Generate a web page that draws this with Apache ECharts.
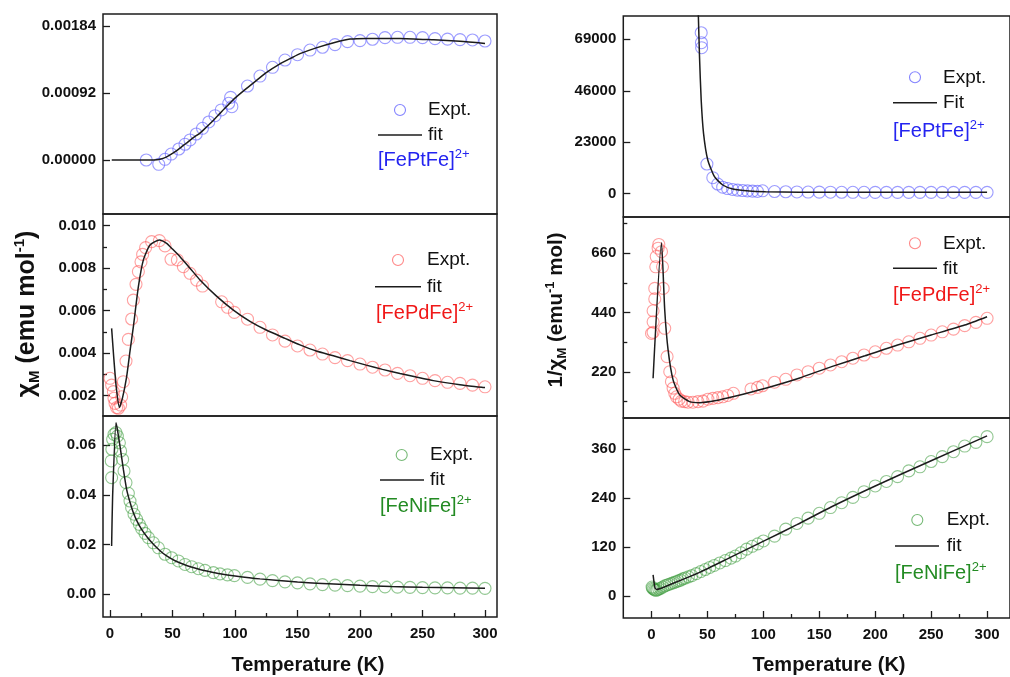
<!DOCTYPE html>
<html>
<head>
<meta charset="utf-8">
<script src="https://cdn.jsdelivr.net/npm/echarts@6/dist/echarts.min.js"></script>
<style>
  html, body { margin: 0; padding: 0; background: #fff; }
  #chart { width: 1010px; height: 677px; }
</style>
</head>
<body>
<div id="chart"></div>
<script>
// ---- [FePtFe]2+ : molar susceptibility (emu/mol) vs T (K)
const ptT = [29, 39, 44, 49, 55, 60, 64, 69, 74, 79, 84, 89, 95, 96.5, 97.5,
  110, 120, 130, 140, 150, 160, 170, 180, 190, 200, 210, 220, 230, 240, 250, 260, 270, 280, 290, 300];
const ptChi = [0.0, -0.000059, 0.00001, 0.000082, 0.000151, 0.000216, 0.000275, 0.000357, 0.000435, 0.000522, 0.000608, 0.000687, 0.000779, 0.00086, 0.000732,
  0.001016, 0.001153, 0.001273, 0.001373, 0.001446, 0.00151, 0.001548, 0.001584, 0.001625, 0.001639, 0.001658, 0.00168, 0.001685, 0.001685, 0.00168, 0.001666, 0.00166, 0.001653, 0.001648, 0.001634];
const ptFitT = [1.4, 20, 35, 40, 45, 50, 55, 61, 67, 72, 77, 83, 88, 93, 100, 109, 117, 125, 135, 145, 152, 165, 179, 192, 205, 232, 259, 280, 300];
const ptFitChi = [0, 0, 0, 0.00001, 0.00004, 0.00009, 0.00015, 0.00023, 0.00031, 0.00037, 0.00045, 0.00055, 0.00064, 0.00073, 0.00085, 0.00098, 0.00109, 0.0012, 0.00131, 0.0014, 0.00146, 0.00154, 0.00161, 0.00166, 0.00167, 0.00167, 0.00165, 0.00163, 0.0016];

// ---- [FePdFe]2+
const pdT = [0, 1.3, 2.7, 3.2, 4, 5.3, 6.7, 8.5, 9.3, 10.7, 12.8, 14.7, 17.3, 18.7, 20.8, 22.7, 24.8, 26.1, 28.5, 33.3,
  39.5, 44, 48.8, 53.9, 58.7, 64, 69.3, 74, 89.3, 94, 99.5,
  110, 120, 130, 140, 150, 160, 170, 180, 190, 200, 210, 220, 230, 240, 250, 260, 270, 280, 290, 300];
const pdChi = [0.00282, 0.0025, 0.00219, 0.00188, 0.00164, 0.00144, 0.00141, 0.00156, 0.00195, 0.00266, 0.00363, 0.00465, 0.00561, 0.0065, 0.00724, 0.00784, 0.0083, 0.00865, 0.00897, 0.00925,
  0.0093, 0.00905, 0.00842, 0.00839, 0.00807, 0.00776, 0.00744, 0.00716, 0.00642, 0.00616, 0.00592,
  0.0056, 0.00522, 0.00486, 0.00457, 0.00434, 0.00415, 0.00396, 0.00379, 0.00365, 0.00349, 0.00334, 0.00321, 0.00305, 0.00294, 0.00282, 0.00271, 0.00263, 0.00258, 0.0025, 0.00242];
const pdFitT = [1.3, 3, 5, 7.5, 10, 13.3, 16, 18.7, 22.7, 26.7, 32, 39.5, 45.3, 50, 56, 64, 72, 85, 98.7, 112, 125, 140, 152, 165, 178.7, 192, 205, 218, 232, 245, 258.7, 280, 300];
const pdFitChi = [0.00517, 0.0038, 0.0024, 0.00145, 0.0019, 0.00289, 0.0041, 0.00525, 0.00713, 0.00839, 0.00909, 0.00933, 0.00917, 0.0089, 0.00854, 0.008, 0.00745, 0.0067, 0.00603, 0.0055, 0.00509, 0.0047, 0.00439, 0.0041, 0.00388, 0.00365, 0.00344, 0.00324, 0.00305, 0.00288, 0.00271, 0.00252, 0.00238];

// ---- [FeNiFe]2+
const niT = [1.0, 1.3, 1.5, 2.1, 3.2, 4.8, 5.9, 7.5, 8.5, 10.1, 11.2, 12.8, 14.7, 16, 17.3, 19.2, 21.3, 23.5, 25.3, 28,
  30.7, 34.7, 38.7, 44, 49.3, 54.7, 60, 65.3, 70.7, 76, 82.7, 88, 94, 99.5,
  110, 120, 130, 140, 150, 160, 170, 180, 190, 200, 210, 220, 230, 240, 250, 260, 270, 280, 290, 300];
const niChi = [0.0536, 0.0469, 0.0583, 0.0623, 0.0643, 0.065, 0.0636, 0.0609, 0.0576, 0.0542, 0.0496, 0.0449, 0.0406, 0.0375, 0.0348, 0.0322, 0.0301, 0.0281, 0.0264, 0.0245,
  0.0228, 0.0207, 0.0187, 0.0161, 0.0147, 0.0134, 0.012, 0.0111, 0.0103, 0.0096, 0.0087, 0.0082, 0.0078, 0.0075,
  0.0068, 0.0061, 0.0055, 0.005, 0.0046, 0.0042, 0.0039, 0.0037, 0.0035, 0.0033, 0.0031, 0.003, 0.0029, 0.0028, 0.0027, 0.0026, 0.0026, 0.0025, 0.0025, 0.0024];
const niFitT = [1.3, 2.1, 4.8, 6, 8, 10.7, 13.3, 16, 18.7, 22, 25.3, 30, 34.7, 40, 45.3, 52, 58.7, 65, 72, 80, 88, 100, 120, 150, 175, 200, 225, 250, 275, 300];
const niFitChi = [0.0194, 0.0395, 0.069, 0.066, 0.0596, 0.0502, 0.0422, 0.037, 0.0328, 0.029, 0.0261, 0.0228, 0.0201, 0.0175, 0.0154, 0.0135, 0.0121, 0.011, 0.01, 0.0091, 0.0083, 0.0074, 0.0062, 0.0049, 0.0042, 0.0036, 0.0031, 0.0028, 0.0026, 0.0024];

// ---- inverse susceptibility (emu^-1 mol)
const ptInvT = [44.4, 44.6, 44.8, 49.5, 54.8, 59.2, 63.6, 68, 72.5, 76.9, 81.4, 85.8, 90.3, 94.7, 99.3,
  110, 120, 130, 140, 150, 160, 170, 180, 190, 200, 210, 220, 230, 240, 250, 260, 270, 280, 290, 300];
const ptInv = [71950, 67480, 65250, 13270, 7150, 4330, 2900, 2300, 1900, 1600, 1400, 1250, 1150, 1050, 1300,
  980, 870, 790, 730, 690, 660, 645, 630, 615, 610, 603, 595, 593, 593, 595, 600, 602, 605, 607, 612];
const ptInvFitT = [41.3, 42.9, 44.4, 46.5, 50.3, 56.3, 63.7, 72.6, 87.4, 102, 132, 170, 220, 300];
const ptInvFit = [90000, 61230, 41870, 27000, 15060, 7600, 3890, 2100, 1200, 890, 680, 620, 600, 610];

const pdInvT = [0, 1.4, 1.4, 1.4, 2.9, 2.9, 3.8, 4.2, 5.9, 6.5, 8.9, 9.8, 10.4, 11.8, 13.9, 16.3, 17.8, 19.3, 20.8, 22.3,
  24.7, 26.7, 29.6, 32.6, 37, 41.5, 46, 50.4, 54.8, 59.3, 63.7, 68.1, 73.2, 88.9, 94.8, 99.2,
  110, 120, 130, 140, 150, 160, 170, 180, 190, 200, 210, 220, 230, 240, 250, 260, 270, 280, 290, 300];
const pdInv = [363, 367, 406, 447, 491, 530, 610, 648, 679, 693, 666, 610, 530, 382, 277, 221, 184, 160, 141, 128,
  119, 112, 110, 108, 108, 110, 112, 119, 122, 125, 128, 133, 141, 157, 163, 169,
  182, 193, 209, 221, 234, 246, 258, 271, 283, 295, 308, 320, 332, 345, 357, 369, 379, 392, 404, 419];
const pdInvFitT = [1.4, 8.9, 11.8, 14.8, 19.3, 25.2, 34, 43, 57.8, 72.6, 102, 131.8, 161, 190.8, 220, 250, 280, 300];
const pdInvFit = [197, 699, 450, 302, 190, 135, 110, 106, 114, 128, 160, 197, 240, 280, 320, 357, 394, 425];

const niInvT = [0.5, 1, 2, 3, 4, 5, 6.5, 8, 10, 12, 14, 16, 18, 20, 22, 24, 26, 28, 30, 33,
  36, 40, 44, 48, 52, 56, 61, 66, 71, 75, 80, 85, 90, 95, 100,
  110, 120, 130, 140, 150, 160, 170, 180, 190, 200, 210, 220, 230, 240, 250, 260, 270, 280, 290, 300];
const niInv = [22, 19, 17, 15, 14, 15, 17, 19, 22, 25, 27, 29, 31, 33, 35, 37, 39, 42, 44, 47,
  50, 55, 60, 65, 70, 75, 81, 87, 93, 98, 106, 115, 122, 128, 135,
  147, 164, 178, 191, 203, 217, 229, 242, 256, 270, 281, 293, 307, 317, 330, 342, 354, 368, 377, 391];
const niInvFitT = [1.4, 3, 4.4, 20, 43, 70, 102, 130, 161, 200, 250, 300];
const niInvFit = [52, 21, 16, 32, 58, 94, 137, 175, 219, 270, 332, 393];

// ---- tick positions
const tempTicks = [0, 50, 100, 150, 200, 250, 300];
const tempMinor = [25, 75, 125, 175, 225, 275];
const ptChiTicks = [0, 0.00092, 0.00184];
const pdChiTicks = [0.002, 0.004, 0.006, 0.008, 0.010];
const pdChiMinor = [0.003, 0.005, 0.007, 0.009];
const niChiTicks = [0, 0.02, 0.04, 0.06];
const ptInvTicks = [0, 23000, 46000, 69000];
const pdInvTicks = [220, 440, 660];
const pdInvMinor = [110, 330, 550, 770];
const niInvTicks = [0, 120, 240, 360];

const FONT = '"Liberation Sans", Arial, Helvetica, sans-serif';
const INK = '#1c1c1c';
const RING_BLUE = 'rgba(90, 90, 255, 0.75)';
const RING_RED = 'rgba(255, 85, 85, 0.7)';
const RING_GREEN = 'rgba(60, 155, 60, 0.7)';

const zip = (xs, ys) => xs.map((x, i) => [x, ys[i]]);

const panels = [
  { grid: { left: 103, top: 14, width: 394, height: 200 }, x: [-5.6, 309.6], y: [-0.0007415, 0.0020048],
    ticks: ptChiTicks, minor: null, fmt: v => v.toFixed(5), bottom: false,
    pts: zip(ptT, ptChi), fit: zip(ptFitT, ptFitChi), ring: RING_BLUE },
  { grid: { left: 103, top: 214, width: 394, height: 202 }, x: [-5.6, 309.6], y: [0.001045, 0.010551],
    ticks: pdChiTicks, minor: pdChiMinor, fmt: v => v.toFixed(3), bottom: false,
    pts: zip(pdT, pdChi), fit: zip(pdFitT, pdFitChi), ring: RING_RED },
  { grid: { left: 103, top: 416, width: 394, height: 201 }, x: [-5.6, 309.6], y: [-0.009124, 0.07167],
    ticks: niChiTicks, minor: null, fmt: v => v.toFixed(2), bottom: true,
    pts: zip(niT, niChi), fit: zip(niFitT, niFitChi), ring: RING_GREEN },
  { grid: { left: 623.3, top: 16, width: 389, height: 201 }, x: [-25.24, 320.5], y: [-10415, 79432],
    ticks: ptInvTicks, minor: null, fmt: v => String(Math.round(v)), bottom: false,
    pts: zip(ptInvT, ptInv), fit: zip(ptInvFitT, ptInvFit), ring: RING_BLUE },
  { grid: { left: 623.3, top: 217, width: 389, height: 201 }, x: [-25.24, 320.5], y: [49.4, 794.7],
    ticks: pdInvTicks, minor: pdInvMinor, fmt: v => String(Math.round(v)), bottom: false,
    pts: zip(pdInvT, pdInv), fit: zip(pdInvFitT, pdInvFit), ring: RING_RED },
  { grid: { left: 623.3, top: 418, width: 389, height: 200 }, x: [-25.24, 320.5], y: [-54, 436.8],
    ticks: niInvTicks, minor: null, fmt: v => String(Math.round(v)), bottom: true,
    pts: zip(niInvT, niInv), fit: zip(niInvFitT, niInvFit), ring: RING_GREEN }
];

const grid = [], xAxis = [], yAxis = [], series = [];
const tickLine = { color: INK, width: 1.3 };
const labelStyle = { color: '#111', fontFamily: FONT, fontWeight: 'bold', fontSize: 15 };
const hiddenLine = { show: false, onZero: false };

panels.forEach((p, i) => {
  grid.push(Object.assign({ show: true, borderColor: INK, borderWidth: 1.5, backgroundColor: 'transparent', containLabel: false }, p.grid));
  xAxis.push({
    type: 'value', gridIndex: i, min: p.x[0], max: p.x[1], position: 'bottom',
    axisLine: hiddenLine, splitLine: { show: false },
    axisTick: { show: p.bottom, inside: true, length: 7, lineStyle: tickLine, customValues: tempTicks },
    axisLabel: { show: p.bottom, margin: 9, customValues: tempTicks, ...labelStyle }
  });
  yAxis.push({
    type: 'value', gridIndex: i, min: p.y[0], max: p.y[1], position: 'left',
    axisLine: hiddenLine, splitLine: { show: false },
    axisTick: { show: true, inside: true, length: 7, lineStyle: tickLine, customValues: p.ticks },
    axisLabel: { show: true, margin: 7, customValues: p.ticks, formatter: p.fmt, ...labelStyle }
  });
});

// minor tick overlays
panels.forEach((p, i) => {
  if (p.bottom) {
    xAxis.push({
      type: 'value', gridIndex: i, min: p.x[0], max: p.x[1], position: 'bottom',
      axisLine: hiddenLine, splitLine: { show: false }, axisLabel: { show: false },
      axisTick: { show: true, inside: true, length: 4, lineStyle: tickLine, customValues: tempMinor }
    });
  }
  if (p.minor) {
    yAxis.push({
      type: 'value', gridIndex: i, min: p.y[0], max: p.y[1], position: 'left',
      axisLine: hiddenLine, splitLine: { show: false }, axisLabel: { show: false },
      axisTick: { show: true, inside: true, length: 4, lineStyle: tickLine, customValues: p.minor }
    });
  }
});

panels.forEach((p, i) => {
  series.push({
    type: 'scatter', name: 'Expt.', xAxisIndex: i, yAxisIndex: i, data: p.pts,
    symbol: 'circle', symbolSize: 12, z: 2,
    itemStyle: { color: 'rgba(255,255,255,0)', borderColor: p.ring, borderWidth: 1.1 }
  });
  series.push({
    type: 'line', name: 'fit', xAxisIndex: i, yAxisIndex: i, data: p.fit,
    showSymbol: false, smooth: 0.2, z: 3,
    lineStyle: { color: INK, width: 1.5 }
  });
});

// legend blocks drawn inside each panel
function legendBlock(cx, cy, lineY, labelY, textX, lx0, lx1, labelX, ring, fitWord, compound, color) {
  const txt = (x, y, s) => ({ type: 'text', x: x, y: y, z: 10,
    style: { text: s, font: '19px ' + FONT, fill: '#111', textAlign: 'left', textVerticalAlign: 'middle', align: 'left', verticalAlign: 'middle' } });
  return [
    { type: 'circle', z: 10, shape: { cx: cx, cy: cy, r: 5.5 }, style: { fill: 'none', stroke: ring, lineWidth: 1.1 } },
    txt(textX, cy, 'Expt.'),
    { type: 'line', z: 10, shape: { x1: lx0, y1: lineY, x2: lx1, y2: lineY }, style: { stroke: INK, lineWidth: 1.5 } },
    txt(textX, lineY, fitWord),
    { type: 'text', x: labelX, y: labelY, z: 10,
      style: { text: '{m|' + compound + '}{s|2+}', fill: color, textAlign: 'left', textVerticalAlign: 'middle', align: 'left', verticalAlign: 'middle',
        rich: {
          m: { fontFamily: FONT, fontSize: 20, lineHeight: 25, fill: color, color: color },
          s: { fontFamily: FONT, fontSize: 13, lineHeight: 12, verticalAlign: 'top', fill: color, color: color }
        } } }
  ];
}

const graphic = [].concat(
  legendBlock(400, 110, 135, 160, 428, 378, 422, 378, RING_BLUE, 'fit', '[FePtFe]', '#2424f0'),
  legendBlock(398, 260, 286.7, 313, 427, 375, 421, 376, RING_RED, 'fit', '[FePdFe]', '#f01818'),
  legendBlock(401.7, 455, 480, 506.7, 430, 380, 424, 380, RING_GREEN, 'fit', '[FeNiFe]', '#238b23'),
  legendBlock(915, 77.3, 102.7, 131.7, 943, 893, 937, 893, RING_BLUE, 'Fit', '[FePtFe]', '#2424f0'),
  legendBlock(915, 243.3, 268.3, 295, 943, 893, 937, 893, RING_RED, 'fit', '[FePdFe]', '#f01818'),
  legendBlock(917.3, 520, 546, 573.3, 946.7, 895, 939, 895, RING_GREEN, 'fit', '[FeNiFe]', '#238b23'),
  [
    { type: 'text', x: 308, y: 665, style: { text: 'Temperature (K)', font: 'bold 20px ' + FONT, fill: '#111',
      textAlign: 'center', textVerticalAlign: 'middle', align: 'center', verticalAlign: 'middle' } },
    { type: 'text', x: 829, y: 665, style: { text: 'Temperature (K)', font: 'bold 20px ' + FONT, fill: '#111',
      textAlign: 'center', textVerticalAlign: 'middle', align: 'center', verticalAlign: 'middle' } },
    { type: 'text', x: 27, y: 314, rotation: Math.PI / 2,
      style: { text: '{a|χ}{b|M}{a| (emu mol}{c|-1}{a|)}', fill: '#111',
        textAlign: 'center', textVerticalAlign: 'middle', align: 'center', verticalAlign: 'middle',
        rich: {
          a: { fontFamily: FONT, fontWeight: 'bold', fontSize: 25, lineHeight: 30 },
          b: { fontFamily: FONT, fontWeight: 'bold', fontSize: 15, lineHeight: 16, verticalAlign: 'bottom' },
          c: { fontFamily: FONT, fontWeight: 'bold', fontSize: 15, lineHeight: 16, verticalAlign: 'top' }
        } } },
    { type: 'text', x: 556, y: 310, rotation: Math.PI / 2,
      style: { text: '{a|1/χ}{b|M}{a| (emu}{c|-1}{a| mol)}', fill: '#111',
        textAlign: 'center', textVerticalAlign: 'middle', align: 'center', verticalAlign: 'middle',
        rich: {
          a: { fontFamily: FONT, fontWeight: 'bold', fontSize: 20.5, lineHeight: 25 },
          b: { fontFamily: FONT, fontWeight: 'bold', fontSize: 13, lineHeight: 14, verticalAlign: 'bottom' },
          c: { fontFamily: FONT, fontWeight: 'bold', fontSize: 13, lineHeight: 14, verticalAlign: 'top' }
        } } }
  ]
);

const chart = echarts.init(document.getElementById('chart'), null, { renderer: 'canvas' });
chart.setOption({
  animation: false,
  backgroundColor: '#ffffff',
  grid: grid,
  xAxis: xAxis,
  yAxis: yAxis,
  series: series,
  graphic: graphic
});
</script>
</body>
</html>
